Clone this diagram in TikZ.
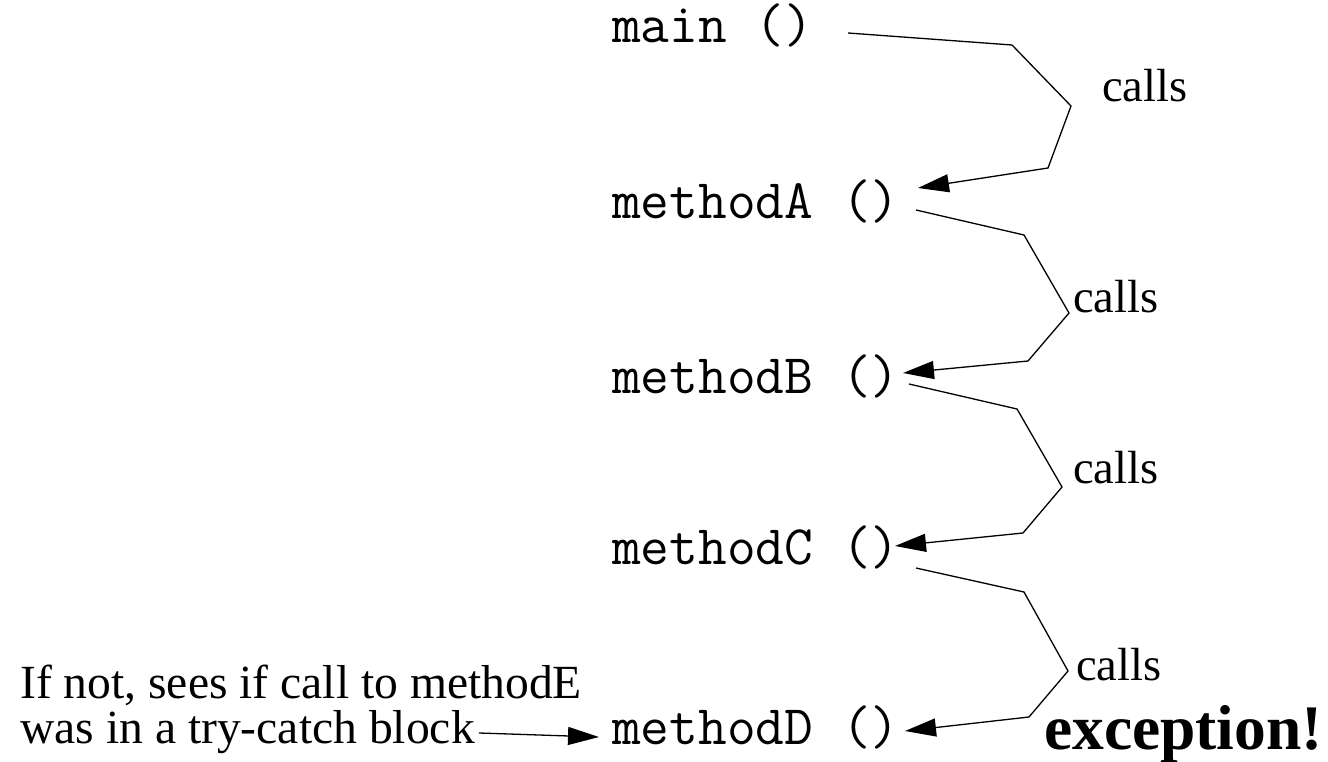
\documentclass[tikz,border=0pt]{standalone}
\usepackage{fontspec}
\setmainfont{Liberation Serif}
\usetikzlibrary{arrows.meta}
\tikzset{
  meth/.style={anchor=base west, inner sep=0pt, font=\ttfamily\fontsize{55.8}{55.8}\selectfont},
  lbl/.style={anchor=base west, inner sep=0pt, font=\fontsize{46.5}{46.5}\selectfont},
  conn/.style={line width=1.3pt, line join=miter, -{Triangle[length=31pt,width=18pt]}},
}
\begin{document}
\begin{tikzpicture}[x=1pt,y=-1pt]
\useasboundingbox (0,0) rectangle (1328,762);
% method nodes
\node[meth] (main) at (612,43)  {main ()};
\node[meth] (mA)   at (612,219) {methodA ()};
\node[meth] (mB)   at (612,393) {methodB ()};
\node[meth] (mC)   at (612,564) {methodC ()};
\node[meth] (mD)   at (612,744) {methodD ()};
% labels
\node[lbl] (c1) at (1102,102) {calls};
\node[lbl] (c2) at (1073,312) {calls};
\node[lbl] (c3) at (1073,483) {calls};
\node[lbl] (c4) at (1076,680) {calls};
\node[anchor=base west, inner sep=0pt, font=\bfseries\fontsize{63.5}{63.5}\selectfont] (exc) at (1044,749) {exception!};
\node[anchor=base west, inner sep=0pt, font=\fontsize{47.6}{47.6}\selectfont] (note) at (20,698)
  {\vtop{\baselineskip=45pt\hbox{If not, sees if call to methodE}\hbox{was in a try-catch block}}};
% kink points
\coordinate (k11) at (1012,45);  \coordinate (k12) at (1071,106); \coordinate (k13) at (1048,168);
\coordinate (k21) at (1024,235); \coordinate (k22) at (1069,313); \coordinate (k23) at (1028,361);
\coordinate (k31) at (1017,409); \coordinate (k32) at (1062,487); \coordinate (k33) at (1023,533);
\coordinate (k41) at (1024,592); \coordinate (k42) at (1068,671); \coordinate (k43) at (1029,717);
\coordinate (n0) at (479,733);
% connectors
\draw[conn] ([shift={(236,-10)}]main.base west) -- (k11) -- (k12) -- (k13) -- ([shift={(306,-31)}]mA.base west);
\draw[conn] ([shift={(304,-9)}]mA.base west) -- (k21) -- (k22) -- (k23) -- ([shift={(291,-20)}]mB.base west);
\draw[conn] ([shift={(297,-9)}]mB.base west) -- (k31) -- (k32) -- (k33) -- ([shift={(283,-18)}]mC.base west);
\draw[conn] ([shift={(304,4)}]mC.base west) -- (k41) -- (k42) -- (k43) -- ([shift={(293,-13)}]mD.base west);
\draw[conn] (n0) -- ([shift={(-13,-7)}]mD.base west);
\end{tikzpicture}
\end{document}
